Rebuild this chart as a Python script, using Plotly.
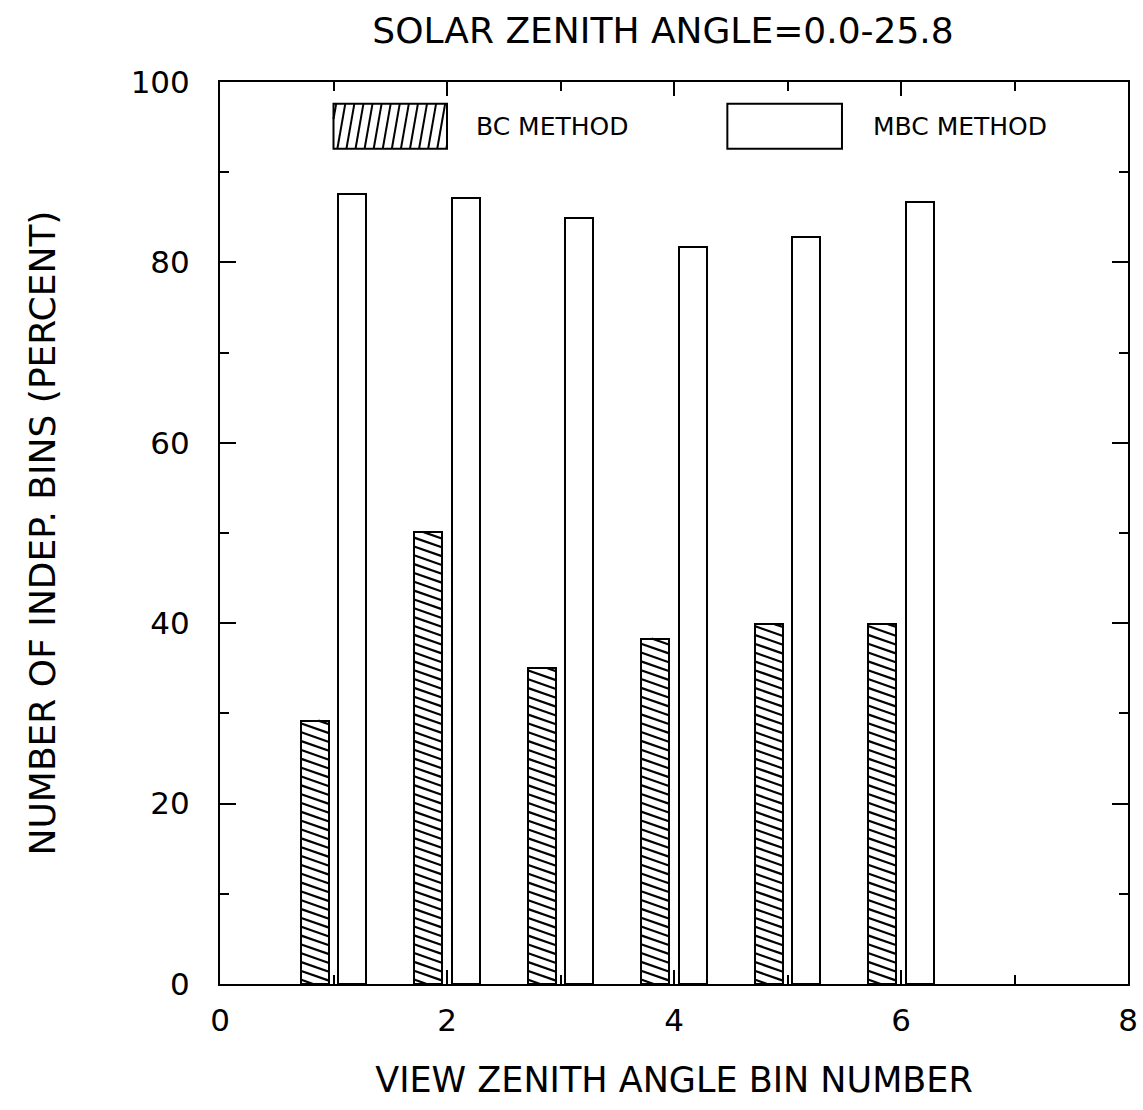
import numpy as np
import plotly.graph_objects as go

# View zenith angle bins and percentage of independent bins per method
bins = [1, 2, 3, 4, 5, 6]
bc_values = [29.2, 50.1, 35.0, 38.3, 39.9, 39.9]
mbc_values = [87.6, 87.1, 84.9, 81.7, 82.8, 86.7]

title_text = "SOLAR ZENITH ANGLE=0.0-25.8"
x_title = "VIEW ZENITH ANGLE BIN NUMBER"
y_title = "NUMBER OF INDEP. BINS (PERCENT)"
legend_labels = ["BC METHOD", "MBC METHOD"]

BAR_W = 0.25
BC_OFF = -0.165
MBC_OFF = 0.165
FONT = "DejaVu Sans"

fig = go.Figure()

bc_x = [b + BC_OFF for b in bins]
mbc_x = [b + MBC_OFF for b in bins]

fig.add_trace(go.Bar(x=bc_x, y=bc_values, width=BAR_W,
                     marker=dict(color="white", line=dict(color="black", width=2)),
                     showlegend=False, hoverinfo="skip"))
fig.add_trace(go.Bar(x=mbc_x, y=mbc_values, width=BAR_W,
                     marker=dict(color="white", line=dict(color="black", width=2)),
                     showlegend=False, hoverinfo="skip"))


def hatch_segments(x0, x1, y0, y1, drop, step):
    """Descending hatch lines clipped to the rectangle [x0,x1]x[y0,y1].
    Each line falls by `drop` (y units) across the full width."""
    k = drop / (x1 - x0)
    xs, ys = [], []
    c = y0 + step * 0.5
    while c < y1 + drop:
        # line: y = c - k*(x - x0)
        xa, xb = x0, x1
        ya, yb = c, c - drop
        if ya > y1:
            xa = x0 + (c - y1) / k
            ya = y1
        if yb < y0:
            xb = x0 + (c - y0) / k
            yb = y0
        if xa < xb:
            xs += [xa, xb, None]
            ys += [ya, yb, None]
        c += step
    return xs, ys


hx, hy = [], []
for xc, v in zip(bc_x, bc_values):
    sx, sy = hatch_segments(xc - BAR_W / 2, xc + BAR_W / 2, 0, v, 1.1, 0.98)
    hx += sx
    hy += sy
fig.add_trace(go.Scatter(x=hx, y=hy, mode="lines",
                         line=dict(color="black", width=2.2),
                         showlegend=False, hoverinfo="skip", cliponaxis=True))

# Legend key boxes (data units)
LEG_BC = (1.0, 2.0, 92.6, 97.6)
LEG_MBC = (4.47, 5.48, 92.6, 97.6)
LEG_TEXT_Y = 95.1
LEG_TEXT_X = [2.24, 5.74]

# steep forward-slash hatch for the BC key
x0, x1, y0, y1 = LEG_BC
lx, ly = [], []
dx = 0.07      # horizontal shift of a line from bottom to top
step = 0.08
s = x0 - dx + step * 0.3
while s < x1:
    xa, ya = s, y0
    xb, yb = s + dx, y1
    slope = (yb - ya) / (xb - xa)
    if xa < x0:
        ya = ya + slope * (x0 - xa)
        xa = x0
    if xb > x1:
        yb = yb - slope * (xb - x1)
        xb = x1
    if xa < xb:
        lx += [xa, xb, None]
        ly += [ya, yb, None]
    s += step
fig.add_trace(go.Scatter(x=lx, y=ly, mode="lines",
                         line=dict(color="black", width=2),
                         showlegend=False, hoverinfo="skip"))

for bx in (LEG_BC, LEG_MBC):
    fig.add_shape(type="rect", xref="x", yref="y",
                  x0=bx[0], x1=bx[1], y0=bx[2], y1=bx[3],
                  line=dict(color="black", width=2), fillcolor="rgba(0,0,0,0)")

for lab, tx in zip(legend_labels, LEG_TEXT_X):
    fig.add_annotation(x=tx, y=LEG_TEXT_Y, xref="x", yref="y", text=lab,
                       showarrow=False, xanchor="left", yanchor="middle",
                       font=dict(family=FONT, size=25, color="black"))

axis_common = dict(showline=True, linecolor="black", linewidth=2, mirror="ticks",
                   ticks="inside", tickcolor="black", tickwidth=2,
                   showgrid=False, zeroline=False,
                   tickfont=dict(family=FONT, size=31, color="black"))

fig.update_xaxes(range=[0, 8], tick0=0, dtick=2, ticklen=14, ticklabelstandoff=8,
                 minor=dict(dtick=1, ticks="inside", ticklen=9, tickcolor="black", tickwidth=2),
                 title=dict(text=x_title, font=dict(family=FONT, size=35, color="black"),
                            standoff=30),
                 **axis_common)
fig.update_yaxes(range=[0, 100], tick0=0, dtick=20, ticklen=16, ticklabelstandoff=22,
                 minor=dict(dtick=10, ticks="inside", ticklen=9, tickcolor="black", tickwidth=2),
                 title=dict(text=y_title, font=dict(family=FONT, size=36, color="black"),
                            standoff=64),
                 **axis_common)

fig.update_layout(
    width=1143, height=1110,
    margin=dict(l=220, r=15, t=82, b=126, autoexpand=False),
    paper_bgcolor="white", plot_bgcolor="white",
    barmode="overlay", bargap=0,
    title=dict(text=title_text, x=663 / 1143, xanchor="center", y=1 - 30 / 1110,
               yanchor="middle", font=dict(family=FONT, size=36, color="black")),
    showlegend=False,
)

fig.write_html("out.html")
